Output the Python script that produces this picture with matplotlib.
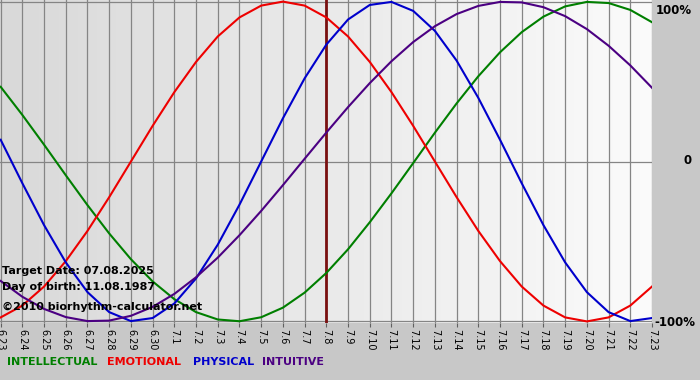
import matplotlib
matplotlib.use("Agg")
import matplotlib.pyplot as plt
import numpy as np

# days shown on the x axis
days = ["6.23", "6.24", "6.25", "6.26", "6.27", "6.28", "6.29", "6.30",
        "7.1", "7.2", "7.3", "7.4", "7.5", "7.6", "7.7", "7.8", "7.9",
        "7.10", "7.11", "7.12", "7.13", "7.14", "7.15", "7.16", "7.17",
        "7.18", "7.19", "7.20", "7.21", "7.22", "7.23"]

# values, -1 .. 1
intellectual = [0.467, 0.291, 0.105, -0.086, -0.273, -0.450, -0.611, -0.750,
                -0.861, -0.942, -0.988, -0.999, -0.974, -0.914, -0.820, -0.697,
                -0.549, -0.380, -0.199, -0.010, 0.180, 0.363, 0.533, 0.683,
                0.809, 0.906, 0.970, 0.998, 0.991, 0.948, 0.871]
emotional = [-0.975, -0.901, -0.782, -0.623, -0.434, -0.223, 0.0, 0.223,
             0.434, 0.623, 0.782, 0.901, 0.975, 1.0, 0.975, 0.901,
             0.782, 0.623, 0.434, 0.223, 0.0, -0.223, -0.434, -0.623,
             -0.782, -0.901, -0.975, -1.0, -0.975, -0.901, -0.782]
physical = [0.136, -0.136, -0.398, -0.631, -0.817, -0.942, -0.998, -0.979,
            -0.888, -0.731, -0.520, -0.270, 0.0, 0.270, 0.520, 0.731,
            0.888, 0.979, 0.998, 0.942, 0.817, 0.631, 0.398, 0.136,
            -0.136, -0.398, -0.631, -0.817, -0.942, -0.998, -0.979]
intuitive = [-0.747, -0.846, -0.922, -0.973, -0.998, -0.995, -0.965, -0.909,
             -0.828, -0.724, -0.601, -0.461, -0.309, -0.148, 0.017, 0.181,
             0.340, 0.490, 0.627, 0.747, 0.846, 0.922, 0.973, 0.998,
             0.995, 0.965, 0.909, 0.828, 0.724, 0.601, 0.461]
target_day = "7.8"

green = "#007f00"
red = "#ee0000"
blue = "#0000cc"
purple = "#4b0082"

fig = plt.figure(figsize=(7, 3.8), dpi=100)
fig.patch.set_facecolor("#c8c8c8")

ax = fig.add_axes([0.0, 1 - 323 / 380, 652 / 700, 323 / 380])
x = np.arange(len(days))
ax.set_xlim(-0.03, len(days) - 1)
ax.set_ylim(-1.01, 1.01)

# background gradient, grey on the left to almost white on the right
grad = np.linspace(0, 1, 256).reshape(1, -1)
ax.imshow(grad, cmap=matplotlib.colors.LinearSegmentedColormap.from_list("bg", ["#d9d9d9", "#fbfbfb"]),
          extent=[-0.03, len(days) - 1, -1.01, 1.01], aspect="auto", zorder=0)

for i in x:
    ax.axvline(i, color="#858585", lw=0.9, zorder=1)
ax.axhline(0, color="#858585", lw=0.9, zorder=1)
ax.axhline(1.0, color="#858585", lw=0.9, zorder=1)
ax.axhline(-1.0, color="#858585", lw=0.9, zorder=1)

ax.axvline(days.index(target_day), color="#7a1010", lw=2.0, zorder=2)

ax.plot(x, intellectual, color=green, lw=1.5, zorder=3, solid_joinstyle="round")
ax.plot(x, emotional, color=red, lw=1.5, zorder=3, solid_joinstyle="round")
ax.plot(x, physical, color=blue, lw=1.5, zorder=3, solid_joinstyle="round")
ax.plot(x, intuitive, color=purple, lw=1.5, zorder=3, solid_joinstyle="round")

for s in ax.spines.values():
    s.set_visible(False)
ax.set_yticks([])
ax.set_xticks(x)
ax.set_xticklabels(days, rotation=270, fontsize=7)
ax.tick_params(axis="x", length=3, pad=1, color="#606060")

# info texts drawn over the curves
fig.text(2 / 700, 1 - 271 / 380, "Target Date: 07.08.2025", fontsize=8, fontweight="bold", va="center", zorder=5)
fig.text(2 / 700, 1 - 287 / 380, "Day of birth: 11.08.1987", fontsize=8, fontweight="bold", va="center", zorder=5)
fig.text(2 / 700, 1 - 307 / 380, "\u00a92010 biorhythm-calculator.net", fontsize=8, fontweight="bold", va="center", zorder=5)

fig.text(656 / 700, 1 - 11 / 380, "100%", fontsize=8.5, fontweight="bold", va="center")
fig.text(683 / 700, 1 - 161 / 380, "0", fontsize=8.5, fontweight="bold", va="center")
fig.text(654 / 700, 1 - 322 / 380, "-100%", fontsize=8.5, fontweight="bold", va="center")

ly = 1 - 362 / 380
fig.text(7 / 700, ly, "INTELLECTUAL", color=green, fontsize=8, fontweight="bold", va="center")
fig.text(107 / 700, ly, "EMOTIONAL", color=red, fontsize=8, fontweight="bold", va="center")
fig.text(193 / 700, ly, "PHYSICAL", color=blue, fontsize=8, fontweight="bold", va="center")
fig.text(262 / 700, ly, "INTUITIVE", color=purple, fontsize=8, fontweight="bold", va="center")

fig.savefig("out.png", dpi=100, facecolor=fig.get_facecolor())
